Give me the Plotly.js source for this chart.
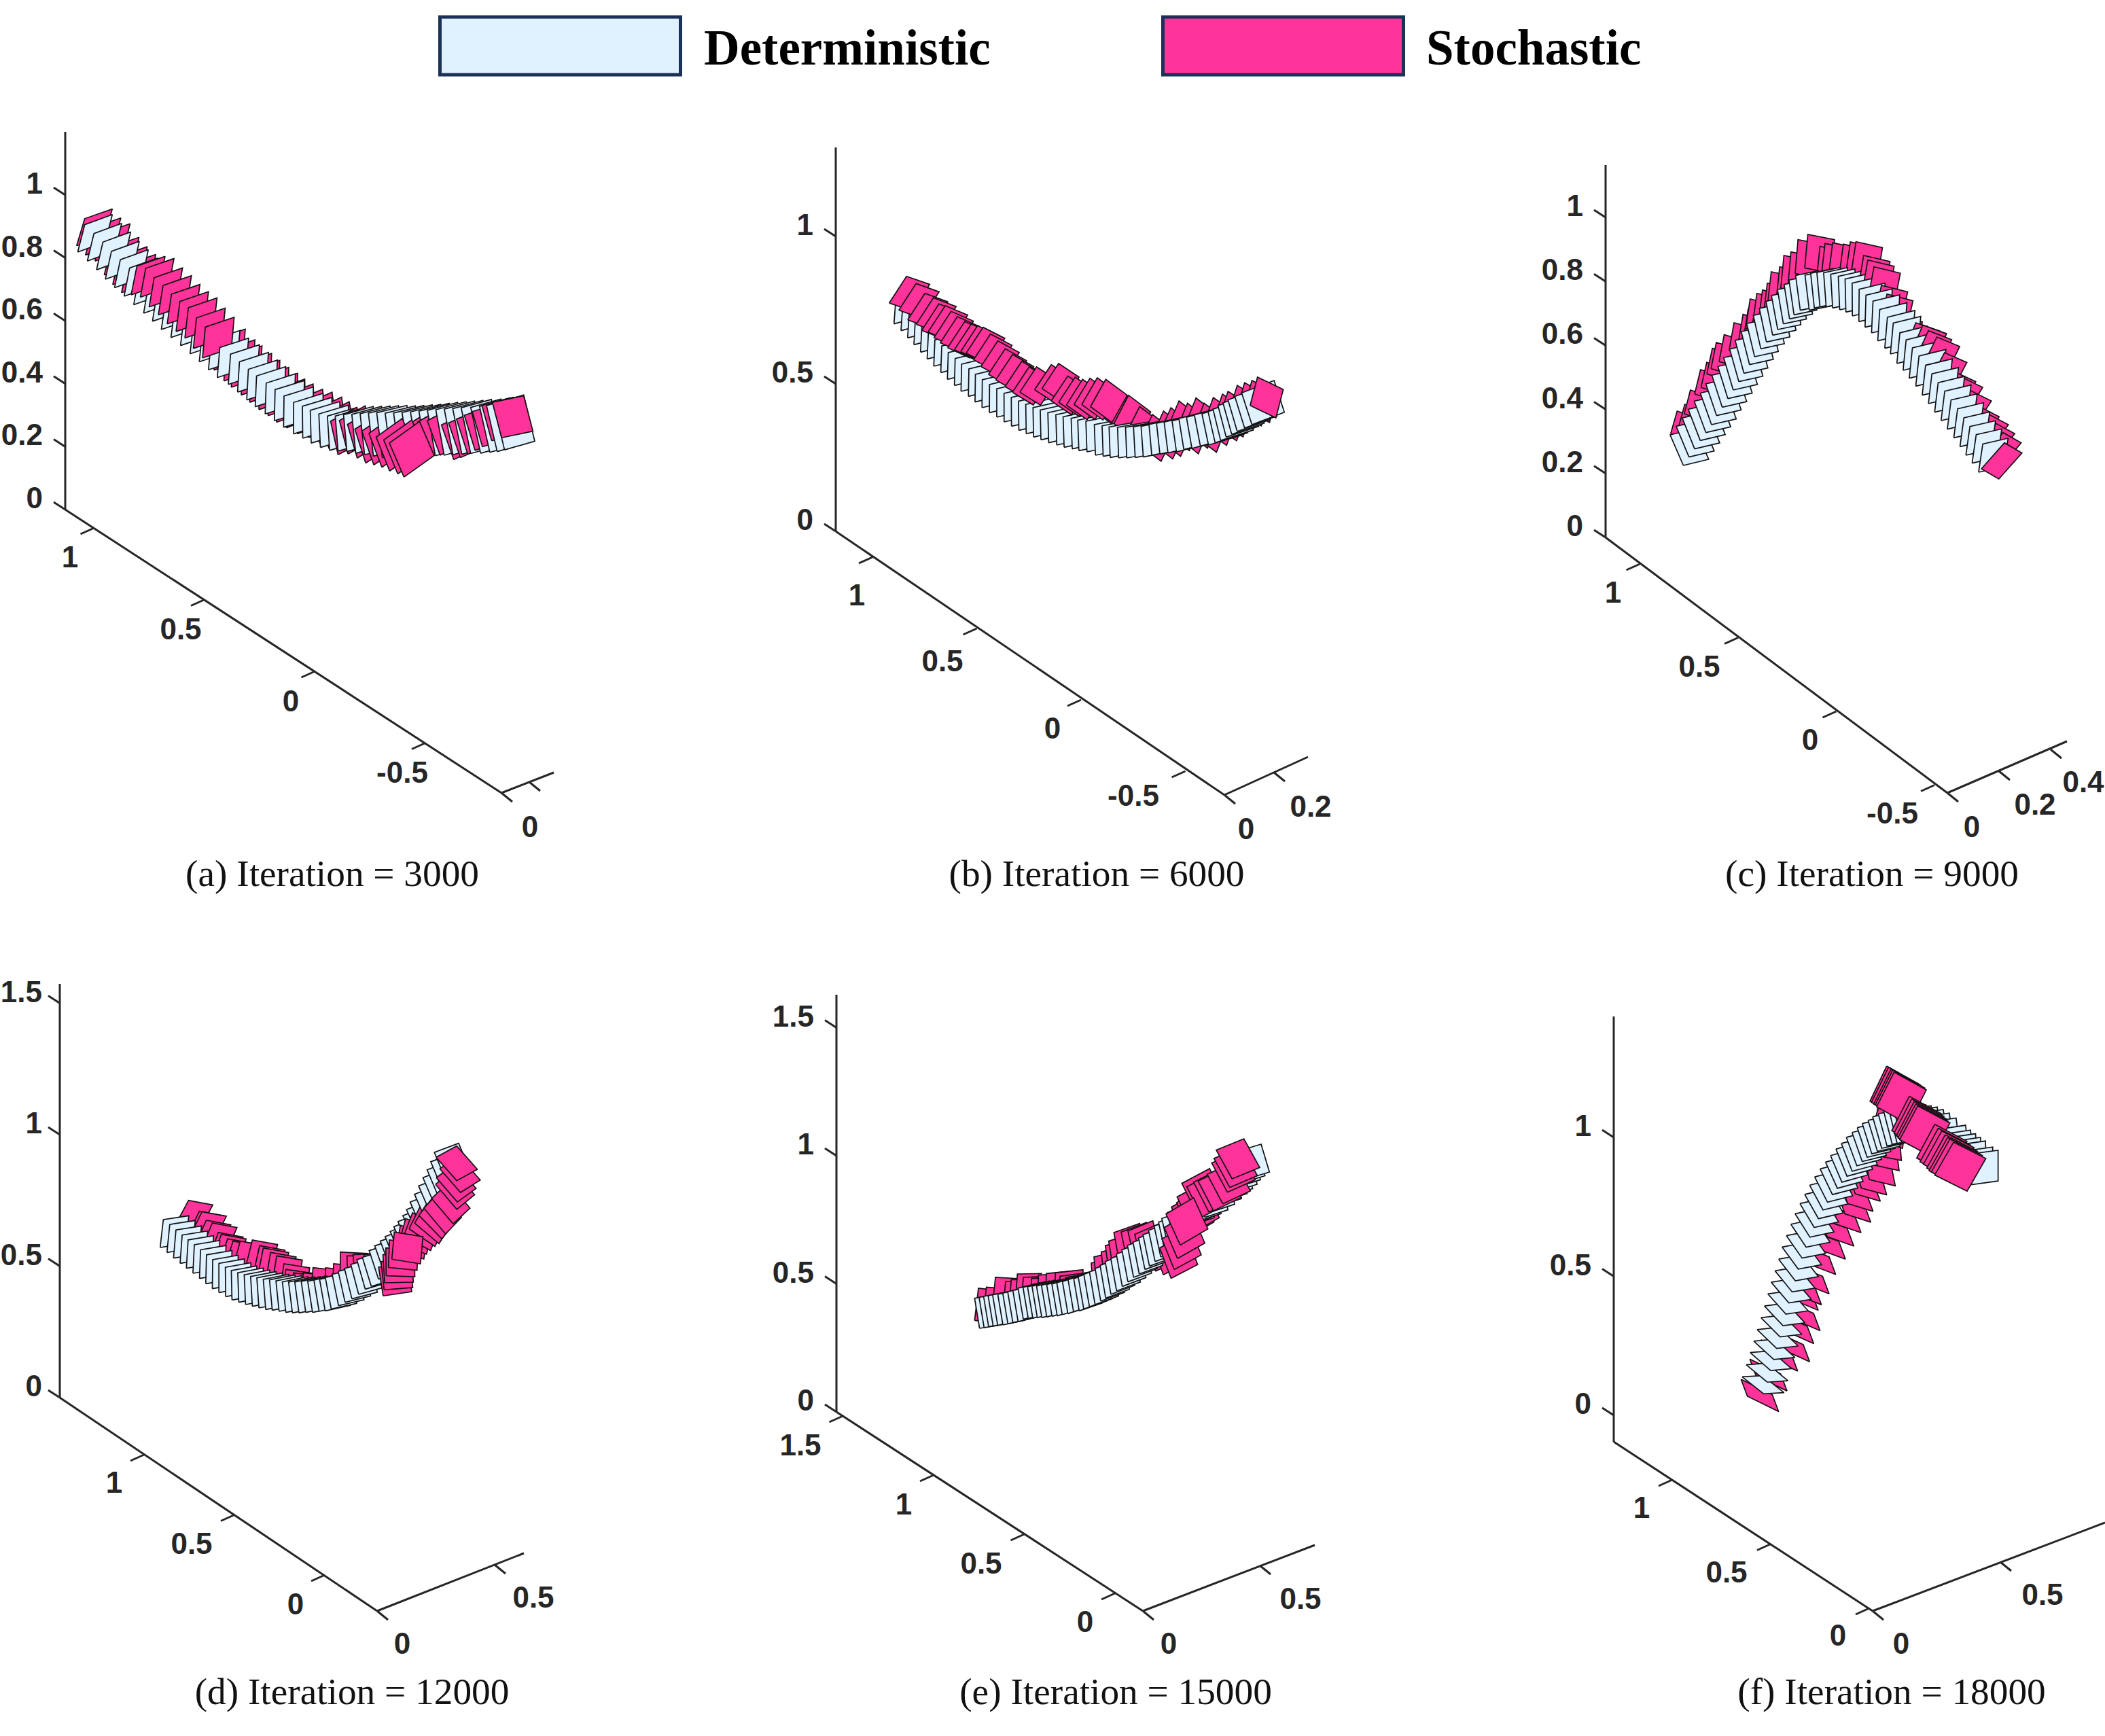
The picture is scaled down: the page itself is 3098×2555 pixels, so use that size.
<!DOCTYPE html>
<html><head><meta charset="utf-8">
<script src="https://cdn.plot.ly/plotly-3.0.1.min.js"></script>
<style>html,body{margin:0;padding:0;background:#fff}</style></head>
<body><div id="chart" style="width:3098px;height:2555px"></div>
<script>
const W=3098,H=2555;
const seriesNames=['Deterministic','Stochastic'];
const captions=['(a) Iteration = 3000','(b) Iteration = 6000','(c) Iteration = 9000','(d) Iteration = 12000','(e) Iteration = 15000','(f) Iteration = 18000'];

// trajectories: projected frame positions, one pair per frame
const detA=[[211,563],[237,600],[262,636],[286,675],[311,710],[337,745],[363,780],[390,815],[414,848],[438,882],[464,915],[490,948],[516,982],[541,1015],[566,1048],[590,1080],[620,1108],[645,1140],[670,1172],[693,1200],[720,1230],[745,1258],[770,1285],[797,1312],[822,1330],[845,1350],[870,1368],[895,1380],[918,1383],[942,1385],[966,1392],[990,1398],[1014,1404],[1038,1410],[1062,1412],[1086,1412],[1110,1410],[1134,1408],[1158,1405],[1182,1402],[1206,1400],[1230,1398],[1254,1396],[1278,1393],[1305,1392],[1330,1388],[1350,1385],[1370,1378]];
const stoA=[[208,537],[232,575],[258,600],[283,657],[306,697],[330,730],[356,739],[381,749],[405,789],[430,822],[454,859],[478,890],[502,917],[525,960],[550,999],[581,1049],[608,1094],[628,1120],[655,1152],[678,1182],[703,1212],[728,1237],[751,1264],[778,1287],[808,1312],[838,1327],[868,1350],[893,1372],[918,1398],[945,1395],[970,1412],[993,1432],[1015,1440],[1037,1450],[1058,1465],[1080,1477],[1097,1490],[1125,1440],[1145,1415],[1170,1405],[1195,1400],[1232,1418],[1250,1410],[1270,1395],[1290,1380],[1310,1365],[1335,1340],[1362,1328]];
const detB=[[398,410],[417,440],[435,472],[452,502],[470,535],[488,565],[506,597],[525,625],[543,655],[562,682],[580,708],[600,730],[618,755],[637,780],[657,802],[677,822],[697,843],[717,862],[737,880],[757,895],[777,910],[797,922],[818,935],[840,945],[860,955],[882,962],[900,970],[922,975],[945,990],[966,995],[985,1000],[1008,1002],[1030,1002],[1053,1000],[1075,998],[1098,990],[1120,985],[1142,980],[1165,975],[1185,965],[1207,960],[1230,950],[1252,945],[1270,935],[1285,925],[1300,910],[1315,898],[1330,885],[1350,870],[1370,855]];
const stoB=[[432,200],[458,232],[482,275],[505,295],[520,322],[537,330],[553,355],[570,378],[590,400],[608,410],[625,418],[640,425],[660,455],[680,485],[700,520],[720,545],[745,575],[765,600],[785,600],[825,590],[845,585],[870,640],[890,645],[910,655],[930,650],[950,648],[973,655],[1010,705],[1035,725],[1065,775],[1100,810],[1130,795],[1150,780],[1172,750],[1195,760],[1218,737],[1240,760],[1265,735],[1290,720],[1305,708],[1330,682],[1350,670],[1370,660],[1385,645]];
const detC=[[235,1095],[255,1058],[275,1022],[295,985],[315,950],[335,915],[353,875],[373,838],[393,800],[412,762],[432,725],[450,688],[470,650],[488,615],[510,580],[530,550],[552,520],[570,495],[590,470],[612,448],[628,430],[650,410],[682,410],[700,400],[720,395],[742,395],[765,400],[790,408],[812,418],[835,435],[858,460],[880,485],[903,510],[925,545],[950,578],[970,603],[993,645],[1015,675],[1037,710],[1060,745],[1083,785],[1105,822],[1127,860],[1150,897],[1172,935],[1195,973],[1217,1012],[1238,1050],[1260,1085],[1283,1125]];
const stoC=[[213,855],[240,825],[260,762],[296,672],[318,640],[338,578],[352,552],[380,518],[415,465],[447,428],[465,405],[472,360],[496,335],[516,320],[533,290],[547,240],[577,218],[592,168],[617,152],[642,98],[677,75],[720,128],[738,115],[765,112],[803,118],[828,108],[848,107],[875,168],[890,188],[912,218],[938,300],[958,338],[993,430],[1010,458],[1030,465],[1060,465],[1085,475],[1105,500],[1135,528],[1162,597],[1195,680],[1222,705],[1255,765],[1285,835],[1320,870],[1345,910],[1370,950],[1375,995]];
const detD=[[100,528],[128,550],[155,575],[182,598],[208,620],[235,642],[262,665],[288,688],[315,710],[342,727],[370,745],[396,760],[424,770],[452,780],[480,788],[507,795],[535,802],[562,805],[590,810],[618,815],[645,817],[672,817],[700,815],[728,815],[755,810],[780,808],[805,800],[835,785],[862,770],[890,755],[918,735],[945,712],[970,700],[1000,668],[1025,645],[1050,622],[1072,600],[1095,575],[1112,552],[1130,530],[1150,505],[1165,480],[1180,448],[1198,415],[1215,380],[1233,345],[1250,312],[1265,278],[1280,238]];
const stoD=[[217,320],[262,368],[272,370],[290,408],[315,420],[340,462],[352,470],[378,490],[400,500],[430,500],[480,495],[510,520],[525,530],[555,550],[580,565],[610,600],[618,625],[650,640],[690,640],[730,617],[782,618],[815,600],[843,548],[870,565],[895,560],[940,560],[1000,615],[1010,590],[1018,560],[1030,530],[1045,495],[1065,460],[1090,430],[1112,400],[1140,375],[1170,350],[1200,332],[1225,305],[1252,280],[1288,242],[1308,185],[1315,160],[1333,125],[1322,80]];
const detE=[[125,885],[145,882],[165,878],[185,875],[205,872],[228,870],[250,865],[272,860],[295,855],[318,845],[340,842],[360,840],[380,838],[400,838],[422,835],[445,832],[468,830],[490,825],[515,820],[540,812],[565,808],[585,800],[610,790],[635,780],[660,765],[682,752],[705,735],[730,720],[755,700],[780,680],[805,660],[830,645],[855,625],[875,610],[900,590],[925,570],[945,552],[960,535],[985,508],[1010,480],[1035,455],[1060,430],[1090,412],[1120,395],[1150,370],[1180,345],[1205,322],[1230,300],[1250,280],[1265,260],[1285,242],[1305,225]];
const stoE=[[120,708],[155,703],[195,660],[240,678],[265,670],[292,645],[318,660],[355,665],[385,650],[420,643],[460,640],[480,655],[505,660],[535,660],[560,650],[590,640],[618,597],[630,570],[662,548],[680,520],[695,500],[718,462],[750,460],[780,455],[810,470],[830,490],[860,500],[890,515],[920,530],[930,490],[940,440],[948,380],[972,350],[995,330],[997,305],[1018,245],[1040,260],[1070,240],[1090,235],[1130,205],[1150,155],[1160,135],[1170,98]];
const detF=[[132,1362],[150,1312],[167,1262],[183,1215],[198,1167],[215,1118],[230,1070],[245,1020],[260,972],[277,925],[293,877],[308,827],[327,780],[347,733],[366,690],[387,648],[408,610],[430,572],[452,538],[476,505],[500,477],[522,450],[546,423],[570,400],[592,375],[617,355],[640,335],[662,318],[688,305],[708,290],[733,278],[757,268],[780,262],[802,258],[825,255],[848,255],[870,260],[895,265],[920,275],[945,290],[973,310],[1013,340],[1033,360],[1053,375],[1073,390],[1093,405],[1123,430],[1145,443]];
const stoF=[[293,1505],[330,1420],[377,1338],[430,1300],[448,1225],[476,1172],[468,1088],[482,1065],[516,1020],[545,940],[588,877],[625,823],[657,768],[700,725],[710,680],[742,638],[770,612],[808,575],[825,512],[835,470],[840,420],[845,380],[838,300],[845,305],[855,312],[862,315],[868,322],[935,420],[945,430],[955,440],[962,448],[970,455],[1045,530],[1060,545],[1075,555],[1090,570],[1100,580],[1110,585],[1125,597]];

// tick values and their labels
const zTicksA=[0,0.2,0.4,0.6,0.8,1], zTicksB=[0,0.5,1], zTicksC=[0,0.2,0.4,0.6,0.8,1], zTicksD=[0,0.5,1,1.5], zTicksE=[0,0.5,1,1.5], zTicksF=[0,0.5,1];
const yTicksA=[1,0.5,0,-0.5], yTicksB=[1,0.5,0,-0.5], yTicksC=[1,0.5,0,-0.5], yTicksD=[1,0.5,0], yTicksE=[1.5,1,0.5,0], yTicksF=[1,0.5,0];
const xTicksA=[0,0.2], xTicksB=[0,0.2], xTicksC=[0,0.2,0.4], xTicksD=[0,0.5], xTicksE=[0,0.5], xTicksF=[0,0.5];

// drawing geometry of the six panels
const panels=[
 {name:'A',det:detA,sto:stoA,z:zTicksA,y:yTicksA,x:xTicksA,box:[0,150,1080,1330],crop:[0,170,1.845,2.8],
  O:[96,750],top:194,z0:750,zu:463,L0:[463.5,988],Lu:[-325,-211],C:[738,1167],Su:[205,-80],Send:[815,1137],
  yLab:[[103,821],[266,927],[428,1033],[592,1138]],xLab:[[780,1218]],cap:[489,1290],
  detAnchor:[0,0],stoAnchor:[0,0],front:[[34,36],[47,47]],mix:[[6,14,1],[28,33,0],[37,46,0]],
  detEdges:[[0,19,-113,75,-42],[.5,0,-130,80,-37],[.6,-8,-145,80,-35],[.7,-15,-185,82,-30],[1,-30,-190,82,-36]],
  stoEdges:[[0,22,-112,75,-40],[.45,0,-135,80,-40],[.7,-35,-140,65,-70],[.77,-40,-140,83,-90],[1,-25,-146,85,-27]]},
 {name:'B',det:detB,sto:stoB,z:zTicksB,y:yTicksB,x:xTicksB,box:[1080,150,2240,1330],crop:[1100,340,1.845,3],
  O:[1230,782],top:217,z0:782,zu:434,L0:[1591,1030],Lu:[-307,-210],C:[1802,1170],Su:[365,-165],Send:[1925,1114],
  yLab:[[1261,877],[1387,974],[1549,1073],[1668,1172]],xLab:[[1834,1221],[1929,1188]],cap:[1614,1290],
  detAnchor:[0,0],stoAnchor:[1,0],front:[[0,26],[43,43]],mix:[[27,42,2]],
  detEdges:[[0,5,-110,70,-30],[.5,-3,-135,85,-30],[.65,-3,-135,90,-25],[1,-28,-140,88,-55]],
  stoEdges:[[0,47,-118,63,35],[.5,45,-110,55,62],[.8,35,-140,65,85],[1,20,-125,70,55]]},
 {name:'C',det:detC,sto:stoC,z:zTicksC,y:yTicksC,x:xTicksC,box:[2240,150,3098,1330],crop:[2380,320,2.412,3],
  O:[2363,791],top:243,z0:791,zu:471,L0:[2702.5,1047],Lu:[-289,-217],C:[2866,1167],Su:[380,-160],Send:[3042,1091],
  yLab:[[2374,873],[2501,982],[2664,1090],[2785,1198]],xLab:[[2902,1218],[2995,1185],[3066,1152]],cap:[2755,1290],
  detAnchor:[0,0],stoAnchor:[1,0],front:[[47,47]],mix:[[27,46,1]],
  detEdges:[[0,-47,-135,90,-27],[.45,-15,-155,80,-20],[.7,10,-137,98,-30],[1,15,-125,90,-25]],
  stoEdges:[[0,23,-100,85,35],[.4,10,-150,95,22],[.65,22,-130,93,29],[.85,62,-138,78,45],[1,82,-115,62,45]]},
 {name:'D',det:detD,sto:stoD,z:zTicksD,y:yTicksD,x:xTicksD,box:[0,1400,1080,2540],crop:[200,1660,2.8,3],
  O:[88,2057],top:1448,z0:2057,zu:387,L0:[478,2318],Lu:[-266,-177],C:[555,2371],Su:[346,-136],Send:[771,2286],zLabX:62,
  yLab:[[168,2183],[282,2273],[435,2362]],xLab:[[592,2420],[785,2352]],cap:[518,2494],
  detAnchor:[0,0],stoAnchor:[1,0],front:[[26,31],[38,43]],mix:[[32,37,8]],
  detEdges:[[0,13,-123,105,-17],[.55,-25,-140,105,-25],[.8,-50,-115,105,-45],[1,-50,-130,100,-40]],
  stoEdges:[[0,60,-120,100,20],[.3,20,-125,105,20],[.5,5,-125,110,10],[.6,-20,-127,118,-20],[.72,10,-120,118,20],[.8,40,-100,110,70],[.88,65,-75,90,115],[1,85,-50,85,103]]},
 {name:'E',det:detE,sto:stoE,z:zTicksE,y:yTicksE,x:xTicksE,box:[1080,1400,2240,2540],crop:[1400,1660,3,3],
  O:[1231,2078],top:1464,z0:2078,zu:377,L0:[1641,2345],Lu:[-267,-174],C:[1682,2371],Su:[344,-134],Send:[1935,2274],
  yLab:[[1178,2128],[1330,2215],[1444,2302],[1597,2388]],xLab:[[1720,2420],[1914,2354]],cap:[1642,2494],
  detAnchor:[0,0],stoAnchor:[1,0],front:[[28,31],[39,42]],mix:[[32,38,8]],
  detEdges:[[0,-22,-133,90,-15],[.5,-25,-145,105,-40],[1,-37,-123,100,-30]],
  stoEdges:[[0,17,-142,90,10],[.3,0,-130,130,-20],[.55,-30,-130,110,-45],[.75,-65,-138,123,-73],[1,-70,-127,122,-50]]},
 {name:'F',det:detF,sto:stoF,z:zTicksF,y:yTicksF,x:xTicksF,box:[2240,1400,3098,2540],crop:[2520,1540,3,2.8],
  O:[2375,2122],top:1496,z0:2083,zu:409,L0:[2751,2367],Lu:[-290,-189],C:[2756,2371],Su:[376,-144],Send:[3098,2241],
  yLab:[[2416,2220],[2541,2315],[2705,2408]],xLab:[[2798,2420],[3006,2348]],cap:[2784,2494],
  detAnchor:[0,0],stoAnchor:[1,1],front:[[22,38]],mix:[],
  detEdges:[[0,90,-5,95,70],[.45,115,-30,50,110],[.7,90,-15,35,140],[1,117,-15,0,127]],
  stoEdges:[[0,138,63,28,70],[.4,110,30,30,75],[.5,120,22,10,120],[.58,142,75,-75,145],[1,143,67,-83,135]]}
];

const DET_COL='#E0F1FF',STO_COL='#FF3399',AX_COL='#262626';
function edgesAt(frames,t){
  let k=0; while(k<frames.length-2&&t>frames[k+1][0])k++;
  const A=frames[k],B=frames[k+1],f=(t-A[0])/(B[0]-A[0]);
  return [1,2,3,4].map(j=>A[j]+(B[j]-A[j])*f);
}
function quad(p,series,i,frames,anchor,name,color,ax){
  const [cx,cy,sx,sy]=p.crop, n=series.length;
  const e=edgesAt(frames,i/(n-1));
  const Qx=series[i][0],Qy=series[i][1];
  const Px=Qx-anchor[0]*e[0]-anchor[1]*e[2],Py=Qy-anchor[0]*e[1]-anchor[1]*e[3];
  const rx=[Px,Px+e[0],Px+e[0]+e[2],Px+e[2],Px],ry=[Py,Py+e[1],Py+e[1]+e[3],Py+e[3],Py];
  return {type:'scatter',mode:'lines',name:name,x:rx.map(v=>cx+v/sx),y:ry.map(v=>cy+v/sy),fill:'toself',fillcolor:color,
    line:{color:'#111',width:1.7},hoverinfo:'skip',showlegend:false,xaxis:ax.x,yaxis:ax.y};
}
const traces=[],layout={width:W,height:H,margin:{l:0,r:0,t:0,b:0},paper_bgcolor:'#fff',plot_bgcolor:'rgba(0,0,0,0)',showlegend:false,shapes:[],annotations:[]};
panels.forEach((p,pi)=>{
  const s=pi?String(pi+1):'', ax={x:'x'+s,y:'y'+s};
  const [X0,Y0,X1,Y1]=p.box;
  layout['xaxis'+s]={domain:[X0/W,X1/W],range:[X0,X1],visible:false,fixedrange:true,anchor:ax.y};
  layout['yaxis'+s]={domain:[1-Y1/H,1-Y0/H],range:[Y1,Y0],visible:false,fixedrange:true,anchor:ax.x};
  const isFront=i=>p.front.some(r=>i>=r[0]&&i<=r[1]);
  const mixOf=i=>p.mix.find(r=>i>=r[0]&&i<=r[1]);
  const sq=i=>quad(p,p.sto,i,p.stoEdges,p.stoAnchor,seriesNames[1],STO_COL,ax);
  const before=p.det.map(()=>[]);
  p.sto.forEach((_,i)=>{
    if(isFront(i))return;
    const m=mixOf(i);
    if(m)before[Math.min(i+m[2],p.det.length-1)].push(i);
    else traces.push(sq(i));
  });
  p.det.forEach((_,j)=>{
    before[j].forEach(i=>traces.push(sq(i)));
    traces.push(quad(p,p.det,j,p.detEdges,p.detAnchor,seriesNames[0],DET_COL,ax));
  });
  p.sto.forEach((_,i)=>{if(isFront(i))traces.push(sq(i));});
  // axes
  const lx=[p.O[0],p.O[0],null,p.O[0],p.C[0],null,p.C[0],p.Send[0]];
  const ly=[p.top,p.O[1],null,p.O[1],p.C[1],null,p.C[1],p.Send[1]];
  p.z.forEach(v=>{const y=p.z0-v*p.zu;lx.push(null,p.O[0],p.O[0]-17);ly.push(null,y,y-11);});
  p.y.forEach(v=>{const a=p.L0[0]+v*p.Lu[0],b=p.L0[1]+v*p.Lu[1];lx.push(null,a,a-20);ly.push(null,b,b+9);});
  p.x.forEach(v=>{const a=p.C[0]+v*p.Su[0],b=p.C[1]+v*p.Su[1];lx.push(null,a,a+16);ly.push(null,b,b+13);});
  traces.push({type:'scatter',mode:'lines',x:lx,y:ly,line:{color:AX_COL,width:3},hoverinfo:'skip',showlegend:false,xaxis:ax.x,yaxis:ax.y,cliponaxis:false});
  const tf={family:'Liberation Sans',size:44,color:AX_COL};
  const zx=p.zLabX||p.O[0]-33;
  traces.push({type:'scatter',mode:'text',x:p.z.map(()=>zx),y:p.z.map(v=>p.z0-v*p.zu-13),text:p.z.map(v=>'<b>'+v+'</b>'),textposition:'middle left',textfont:tf,cliponaxis:false,hoverinfo:'skip',showlegend:false,xaxis:ax.x,yaxis:ax.y});
  const lb=p.y.map((v,i)=>[p.yLab[i][0],p.yLab[i][1]+3,v]).concat(p.xLab.map((q,i)=>[q[0],q[1]+3,p.x[i]]));
  traces.push({type:'scatter',mode:'text',x:lb.map(r=>r[0]),y:lb.map(r=>r[1]),text:lb.map(r=>'<b>'+r[2]+'</b>'),textposition:'middle center',textfont:tf,cliponaxis:false,hoverinfo:'skip',showlegend:false,xaxis:ax.x,yaxis:ax.y});
  traces.push({type:'scatter',mode:'text',x:[p.cap[0]],y:[p.cap[1]],text:[captions[pi]],textposition:'middle center',textfont:{family:'Liberation Serif',size:55.3,color:'#111'},cliponaxis:false,hoverinfo:'skip',showlegend:false,xaxis:ax.x,yaxis:ax.y});
});
// legend
[[645,1004,DET_COL,1034,0],[1709,2068,STO_COL,2097,1]].forEach(l=>{
  layout.shapes.push({type:'rect',xref:'paper',yref:'paper',x0:(l[0]+2.5)/W,x1:(l[1]-2.5)/W,y0:1-110/H,y1:1-25/H,fillcolor:l[2],line:{color:'#1B3157',width:5}});
  layout.annotations.push({xref:'paper',yref:'paper',x:l[3]/W,y:1-70/H,xanchor:'left',yanchor:'middle',showarrow:false,text:'<b>'+seriesNames[l[4]]+'</b>',font:{family:'Liberation Serif',size:73,color:'#000'}});
});
Plotly.newPlot('chart',traces,layout,{staticPlot:true,displayModeBar:false});
</script></body></html>
